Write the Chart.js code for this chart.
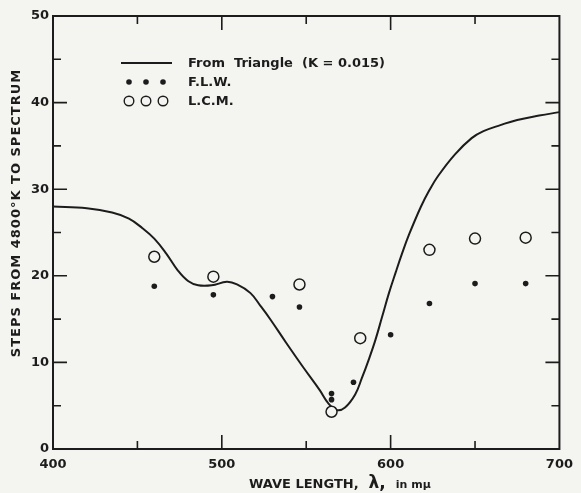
<!DOCTYPE html>
<html><head><meta charset="utf-8">
<script src="https://cdn.jsdelivr.net/npm/chart.js@4.4.0/dist/chart.umd.min.js"></script>
<style>html,body{margin:0;padding:0;background:#f4f4f1;} canvas{display:block;}</style>
</head><body>
<canvas id="c" width="581" height="493"></canvas>
<script>
// ---- data ----
const curveX = [400,420,435,445,453,460,467,474,480,486,494,503,509,517,523,529,538,548,558,563,568,573,579,583,587,591,595,599,603,607,611,618,623,628,638,648,655,665,675,688,700];
const curveY = [28.0,27.8,27.3,26.6,25.5,24.3,22.6,20.6,19.4,18.9,18.9,19.3,19.0,18.0,16.5,14.9,12.3,9.5,6.8,5.3,4.5,4.8,6.3,8.2,10.3,12.6,15.3,18.0,20.4,22.7,24.8,28.0,29.9,31.5,34.0,35.9,36.7,37.4,38.0,38.5,38.9];
const flwX = [460,495,530,546,565,565,578,600,623,650,680];
const flwY = [18.8,17.8,17.6,16.4,6.4,5.7,7.7,13.2,16.8,19.1,19.1];
const lcmX = [460,495,546,565,582,623,650,680];
const lcmY = [22.2,19.9,19.0,4.3,12.8,23.0,24.3,24.4];
const xTickLabels = [400,500,600,700];
const yTickLabels = [0,10,20,30,40,50];
const seriesLabels = ['From  Triangle  (K = 0.015)','F.L.W.','L.C.M.'];
const xTitleParts = ['WAVE LENGTH,','λ,','in mμ'];
const yTitle = 'STEPS FROM 4800°K TO SPECTRUM';

const INK = '#1c1c1c';
const PAPER = '#f4f4f1';
const FONT = "'DejaVu Sans', sans-serif";
const pts = (xs, ys) => xs.map((x, i) => ({x, y: ys[i]}));

const decor = {
  id: 'decor',
  afterDraw(chart) {
    const ctx = chart.ctx, a = chart.chartArea;
    const xs = chart.scales.x, ys = chart.scales.y;
    ctx.save();
    ctx.strokeStyle = INK; ctx.lineWidth = 2;
    ctx.strokeRect(a.left, a.top, a.right - a.left, a.bottom - a.top);
    ctx.lineWidth = 1.6;
    for (let v = ys.min; v <= ys.max; v += 5) {
      const p = ys.getPixelForValue(v);
      const L = (v % 10 === 0) ? 14 : 8;
      ctx.beginPath();
      ctx.moveTo(a.left, p); ctx.lineTo(a.left + L, p);
      ctx.moveTo(a.right, p); ctx.lineTo(a.right - L, p);
      ctx.stroke();
    }
    for (let v = xs.min + 50; v < xs.max; v += 50) {
      const p = xs.getPixelForValue(v);
      const L = (v % 100 === 0) ? 14 : 8;
      ctx.beginPath();
      ctx.moveTo(p, a.bottom); ctx.lineTo(p, a.bottom - L);
      ctx.moveTo(p, a.top); ctx.lineTo(p, a.top + L);
      ctx.stroke();
    }
    // legend
    const ds = chart.data.datasets;
    ctx.fillStyle = INK;
    ctx.font = 'bold 13px ' + FONT;
    ctx.textBaseline = 'middle';
    ctx.textAlign = 'left';
    const tx = 188, rows = [63, 82, 101], sx = [129, 146, 163];
    ctx.lineWidth = 2;
    ctx.beginPath(); ctx.moveTo(121, rows[0]); ctx.lineTo(172, rows[0]); ctx.stroke();
    ctx.fillText(ds[0].label, tx, rows[0] + 1);
    sx.forEach(x => { ctx.beginPath(); ctx.arc(x, rows[1], 2.8, 0, Math.PI * 2); ctx.fill(); });
    ctx.fillText(ds[1].label, tx, rows[1] + 1);
    ctx.lineWidth = 1.4;
    sx.forEach(x => { ctx.beginPath(); ctx.arc(x, rows[2], 4.8, 0, Math.PI * 2); ctx.stroke(); });
    ctx.fillText(ds[2].label, tx, rows[2] + 1);
    // x title
    ctx.textBaseline = 'alphabetic';
    let x = 249; const y = 488;
    ctx.font = 'bold 13px ' + FONT; ctx.fillText(xTitleParts[0], x, y);
    x += ctx.measureText(xTitleParts[0]).width + 10;
    ctx.font = 'bold 17px ' + FONT; ctx.fillText(xTitleParts[1], x, y);
    x += ctx.measureText(xTitleParts[1]).width + 10;
    ctx.font = 'bold 11px ' + FONT; ctx.fillText(xTitleParts[2], x, y);
    // y title
    ctx.textBaseline = 'middle';
    ctx.translate(17, 213); ctx.rotate(-Math.PI / 2);
    ctx.textAlign = 'center';
    ctx.font = 'bold 13px ' + FONT;
    ctx.letterSpacing = '1px';
    ctx.fillText(yTitle, 0, 0);
    ctx.restore();
  }
};

new Chart(document.getElementById('c'), {
  type: 'scatter',
  data: {
    datasets: [
      { type: 'line', label: seriesLabels[0], data: pts(curveX, curveY), borderColor: INK, borderWidth: 2,
        pointRadius: 0, tension: 0.4, fill: false, order: 3 },
      { label: seriesLabels[1], data: pts(flwX, flwY), pointRadius: 2.8, pointBackgroundColor: INK,
        pointBorderColor: INK, pointBorderWidth: 0, order: 2 },
      { label: seriesLabels[2], data: pts(lcmX, lcmY), pointRadius: 5.5, pointBackgroundColor: PAPER,
        pointBorderColor: INK, pointBorderWidth: 1.5, order: 1 }
    ]
  },
  options: {
    responsive: false, animation: false, devicePixelRatio: 1,
    layout: { padding: { top: 16, right: 15, left: 0, bottom: 0 } },
    plugins: { legend: { display: false }, tooltip: { enabled: false } },
    scales: {
      x: { type: 'linear', min: 400, max: 700,
        afterFit(s) { s.height = 44; },
        afterBuildTicks(s) { s.ticks = xTickLabels.map(v => ({value: v})); },
        grid: { display: false, drawTicks: false, tickLength: 0 }, border: { display: false },
        ticks: { padding: 8, color: INK, font: { family: FONT, size: 13, weight: 'bold' }, maxRotation: 0 } },
      y: { min: 0, max: 50,
        afterFit(s) { s.width = 53; },
        afterBuildTicks(s) { s.ticks = yTickLabels.map(v => ({value: v})); },
        grid: { display: false, drawTicks: false, tickLength: 0 }, border: { display: false },
        ticks: { padding: 4, color: INK, font: { family: FONT, size: 13, weight: 'bold' } } }
    }
  },
  plugins: [decor]
});
</script>
</body></html>
